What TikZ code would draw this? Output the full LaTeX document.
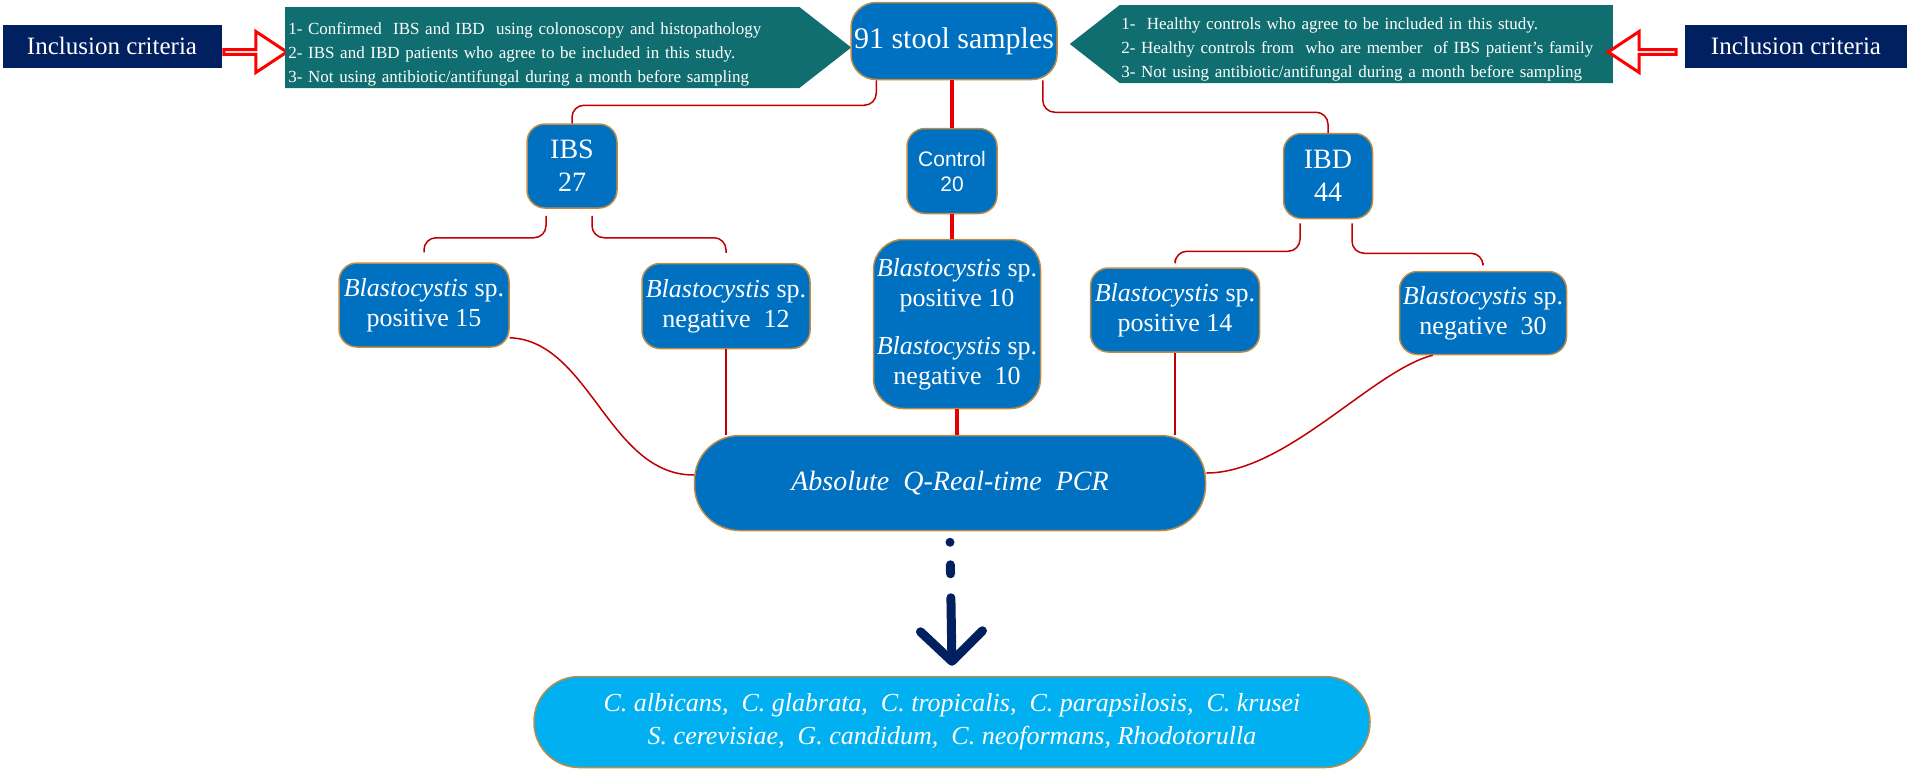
\documentclass[tikz,border=0pt]{standalone}
\usepackage{fontspec}
\setmainfont{Liberation Serif}
\newfontfamily\arialfont{Liberation Sans}
\usetikzlibrary{shapes.arrows,shapes.symbols,arrows.meta}
\definecolor{navyblue}{RGB}{0,32,96}
\definecolor{critteal}{RGB}{16,110,112}
\definecolor{boxblue}{RGB}{0,112,192}
\definecolor{lightbox}{RGB}{0,176,240}
\definecolor{boxedge}{RGB}{190,140,70}
\definecolor{linkred}{RGB}{192,0,0}
\newcommand{\blasto}{\textit{Blastocystis} sp.}
\tikzstyle{bluebox} = [draw=boxedge, fill=boxblue, line width=1.5pt, rounded corners=18pt,
    text=white, align=center, inner sep=0pt, font=\fontsize{26}{30}\selectfont]
\tikzstyle{incbox} = [fill=navyblue, text=white, minimum width=219pt, minimum height=43pt,
    inner sep=0pt, font=\fontsize{25}{28}\selectfont]
\tikzstyle{critbox} = [signal, fill=critteal, text=white, align=left, inner sep=0pt,
    font=\fontsize{17}{24}\selectfont]
\tikzstyle{hollowarrow} = [single arrow, draw=red, line width=3pt, fill=white, minimum height=63pt,
    minimum width=41pt, single arrow head extend=11pt, single arrow tip angle=67, inner sep=0pt]
\tikzstyle{thinlink} = [linkred, line width=1.5pt, rounded corners=12pt]
\tikzstyle{mainlink} = [red!90!black, line width=3.5pt]

\begin{document}
\begin{tikzpicture}[x=1pt,y=-1pt]
\useasboundingbox (0,0) rectangle (1908,772);
% inclusion criteria
\node[incbox] (linc) at (112,46) {Inclusion criteria};
\node[hollowarrow] (larr) at (253.5,52) {};
\node[critbox, signal to=east, signal pointer angle=76, minimum width=566pt, minimum height=81pt,
    text width=508pt, anchor=west] (lcrit) at (285,47.5) {%
    \rule{0pt}{25pt}1- Confirmed\ \ IBS and IBD\ \ using colonoscopy and histopathology\\
    2- IBS and IBD patients who agree to be included in this study.\\
    3- Not using antibiotic/antifungal during a month before sampling};
\node[bluebox, rounded corners=25pt, minimum width=206pt, minimum height=77pt,
    font=\fontsize{30}{34}\selectfont] (stool) at (954,41) {91 stool samples};
\node[critbox, signal to=west, signal pointer angle=76, minimum width=543pt, minimum height=78pt,
    text width=490pt, anchor=east] (rcrit) at (1613,44) {%
    \rule{0pt}{23pt}1-\ \ Healthy controls who agree to be included in this study.\\
    2- Healthy controls from\ \ who are member\ \ of IBS patient’s family\\
    3- Not using antibiotic/antifungal during a month before sampling};
\node[hollowarrow, shape border rotate=180, minimum height=68pt] (rarr) at (1644,52) {};
\node[incbox, minimum width=222pt] (rinc) at (1796,46) {Inclusion criteria};

% groups
\node[bluebox, minimum width=90pt, minimum height=84pt, font=\fontsize{28}{33}\selectfont] (ibs) at (572,166) {IBS\\27};
\node[bluebox, minimum width=90pt, minimum height=85pt, font=\arialfont\fontsize{21}{25}\selectfont] (control) at (952,171) {Control\\20};
\node[bluebox, minimum width=89pt, minimum height=85pt, font=\fontsize{28}{33}\selectfont] (ibd) at (1328,176) {IBD\\44};

% blastocystis results
\node[bluebox, minimum width=170pt, minimum height=84pt] (pos15) at (424,305) {\blasto\\positive 15};
\node[bluebox, minimum width=168pt, minimum height=85pt] (neg12) at (726,306) {\blasto\\negative\ \ 12};
\node[bluebox, rounded corners=30pt, minimum width=167pt, minimum height=169pt] (combo) at (957,324)
    {\blasto\\positive 10\\[18pt]\blasto\\negative\ \ 10};
\node[bluebox, minimum width=169pt, minimum height=84pt] (pos14) at (1175,310) {\blasto\\positive 14};
\node[bluebox, minimum width=167pt, minimum height=83pt] (neg30) at (1483,313) {\blasto\\negative\ \ 30};

% pcr and species
\node[bluebox, rounded corners=45pt, minimum width=511pt, minimum height=95pt,
    font=\itshape\fontsize{28}{33}\selectfont] (pcr) at (950,483) {Absolute\ \ Q-Real-time\ \ PCR};
\node[bluebox, fill=lightbox, rounded corners=45pt, minimum width=836pt, minimum height=91pt,
    font=\itshape\fontsize{26}{33}\selectfont] (fungi) at (952,722)
    {C. albicans,\ \ C. glabrata,\ \ C. tropicalis,\ \ C. parapsilosis,\ \ C. krusei\\
     S. cerevisiae,\ \ G. candidum,\ \ C. neoformans,\ Rhodotorulla};

% links
\draw[mainlink] (control.north |- stool.south) -- (control.north);
\draw[mainlink] (control.south) -- (control.south |- combo.north);
\draw[mainlink] (combo.south) -- (combo.south |- pcr.north);
\draw[thinlink] ([xshift=26pt]stool.south west) -- ++(0,25) -| (ibs.north);
\draw[thinlink] ([xshift=-15pt]stool.south east) -- ++(0,32) -| (ibd.north);
\draw[thinlink] ([xshift=-26pt,yshift=-7pt]ibs.south) -- ++(0,22) -| ([yshift=10pt]pos15.north);
\draw[thinlink] ([xshift=20pt,yshift=-7pt]ibs.south) -- ++(0,22) -| ([yshift=10pt]neg12.north);
\draw[thinlink] ([xshift=-28pt,yshift=-4pt]ibd.south) -- ++(0,28) -| ([yshift=8pt]pos14.north);
\draw[thinlink] ([xshift=24pt,yshift=-4pt]ibd.south) -- ++(0,30) -| ([yshift=8pt]neg30.north);
\draw[thinlink] ([yshift=10pt]pos15.south east) .. controls +(80,3) and +(-85,0) .. ([yshift=8pt]pcr.west);
\draw[thinlink] (neg12.south) -- (neg12.south |- pcr.north);
\draw[thinlink] (pos14.south) -- (pos14.south |- pcr.north);
\draw[thinlink] ([xshift=34pt]neg30.south west) .. controls +(-60,15) and +(80,0) .. ([yshift=10pt]pcr.east);
\draw[navyblue, line width=9pt, line cap=round, dash pattern=on 0.01pt off 22.5pt on 9pt off 24pt on 200pt,
    -{Straight Barb[length=30pt,width=62pt,round]}] ([yshift=-11pt]pcr.south) -- ([yshift=10pt]fungi.north);
\end{tikzpicture}
\end{document}
